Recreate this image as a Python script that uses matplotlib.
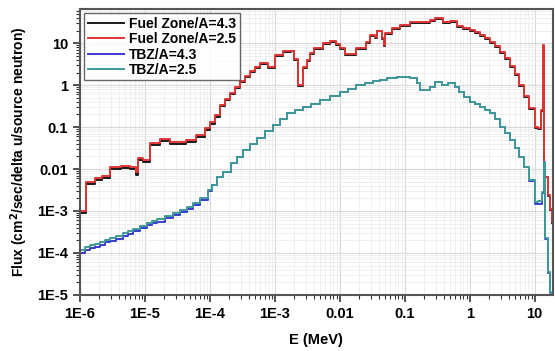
import numpy as np
import matplotlib
matplotlib.use('Agg')
import matplotlib.pyplot as plt
from matplotlib.ticker import LogLocator, NullFormatter

plt.rcParams['font.family'] = ['Liberation Sans', 'DejaVu Sans']
plt.rcParams['font.weight'] = 'bold'

# fuel zone spectrum (energy group lower edges, MeV)
fuel_E = [1.0e-6, 1.24e-6, 1.7e-6, 2.2e-6, 2.9e-6, 4.3e-6, 5.9e-6, 7.3e-6, 7.8e-6, 9.3e-6,
          1.2e-5, 1.7e-5, 2.4e-5, 4.3e-5, 6.1e-5, 8.4e-5, 1.0e-4, 1.19e-4, 1.43e-4, 1.7e-4,
          2.03e-4, 2.43e-4, 2.9e-4, 3.45e-4, 4.1e-4, 4.9e-4, 5.9e-4, 7.8e-4, 1.0e-3, 1.33e-3,
          1.75e-3, 2.0e-3, 2.26e-3, 2.7e-3, 3.1e-3, 3.5e-3, 4.0e-3, 5.5e-3, 7.0e-3, 8.7e-3,
          0.01, 0.0119, 0.0176, 0.025, 0.029, 0.035, 0.038, 0.044, 0.0475, 0.05,
          0.063, 0.084, 0.119, 0.17, 0.243, 0.29, 0.385, 0.49, 0.63, 0.8,
          1.0, 1.19, 1.42, 1.7, 2.03, 2.42, 2.88, 3.44, 4.1, 4.9,
          5.84, 6.97, 8.3, 10.0, 11.1, 12.4, 13.3, 13.8, 15.8, 17.0,
          18.2]
fuel_A25 = [1.0e-3, 4.9e-3, 6.1e-3, 6.8e-3, 0.0112, 0.0118, 0.0112, 0.0085, 0.0183, 0.0165,
            0.042, 0.052, 0.044, 0.049, 0.065, 0.095, 0.13, 0.19, 0.33, 0.46,
            0.65, 0.9, 1.24, 1.64, 2.15, 2.7, 3.3, 2.7, 5.2, 6.4,
            6.6, 4.2, 1.0, 2.7, 3.9, 5.8, 7.6, 10.0, 11.2, 9.5,
            7.6, 5.5, 7.6, 10.6, 15.5, 14.0, 20.0, 13.0, 9.0, 17.3,
            22.7, 26.9, 31.6, 31.6, 35.3, 39.4, 32.0, 33.4, 25.4, 22.5,
            20.4, 18.3, 15.5, 13.1, 10.6, 8.5, 6.1, 4.4, 2.83, 1.83,
            1.0, 0.55, 0.28, 0.10, 0.095, 0.25, 9.0, 6.5e-3, 2.4e-3, 1.1e-3,
            5.5e-4]
fuel_A43 = [9.0e-4, 4.4e-3, 5.5e-3, 6.1e-3, 0.0101, 0.0106, 0.0101, 0.0072, 0.0165, 0.0149,
            0.038, 0.047, 0.040, 0.044, 0.059, 0.086, 0.118, 0.175, 0.31, 0.44,
            0.62, 0.86, 1.18, 1.58, 2.05, 2.6, 3.15, 2.6, 5.0, 6.2,
            6.4, 4.0, 0.95, 2.6, 3.8, 5.6, 7.4, 9.7, 10.9, 9.2,
            7.4, 5.3, 7.4, 10.3, 15.0, 13.6, 19.4, 12.6, 8.7, 16.8,
            22.0, 26.1, 30.7, 30.7, 34.3, 38.2, 31.0, 32.4, 24.6, 21.8,
            19.8, 17.8, 15.0, 12.7, 10.3, 8.2, 5.9, 4.3, 2.75, 1.78,
            0.97, 0.53, 0.27, 0.097, 0.092, 0.24, 8.7, 6.3e-3, 2.3e-3, 1.05e-3,
            5.3e-4]

# tritium breeding zone spectrum
tbz_E = [1.0e-6, 1.19e-6, 1.43e-6, 1.7e-6, 2.03e-6, 2.43e-6, 2.9e-6, 3.58e-6, 4.6e-6, 5.5e-6,
         6.5e-6, 8.4e-6, 1.07e-5, 1.28e-5, 1.53e-5, 2.03e-5, 2.7e-5, 3.45e-5, 4.4e-5, 5.5e-5,
         7.0e-5, 9.3e-5, 1.07e-4, 1.28e-4, 1.58e-4, 2.1e-4, 2.6e-4, 3.2e-4, 4.1e-4, 5.3e-4,
         7.0e-4, 9.3e-4, 1.19e-3, 1.53e-3, 2.03e-3, 2.7e-3, 3.6e-3, 4.9e-3, 7.0e-3, 0.01,
         0.0133, 0.018, 0.0243, 0.032, 0.041, 0.053, 0.075, 0.119, 0.153, 0.17,
         0.243, 0.29, 0.37, 0.46, 0.6, 0.69, 0.83, 1.0, 1.19, 1.42,
         1.7, 2.03, 2.42, 2.88, 3.44, 4.1, 4.9, 5.84, 6.97, 8.3,
         10.0, 11.1, 12.8, 13.7, 14.3, 15.8, 17.0, 18.0]
tbz_A25 = [1.18e-4, 1.39e-4, 1.55e-4, 1.64e-4, 1.83e-4, 2.04e-4, 2.28e-4, 2.54e-4, 3.0e-4, 3.34e-4,
           3.7e-4, 4.4e-4, 5.2e-4, 5.8e-4, 6.4e-4, 7.6e-4, 8.9e-4, 1.06e-3, 1.24e-3, 1.55e-3,
           2.04e-3, 3.16e-3, 4.2e-3, 6.4e-3, 8.5e-3, 0.0139, 0.0193, 0.0283, 0.039, 0.055,
           0.080, 0.112, 0.155, 0.215, 0.254, 0.30, 0.353, 0.44, 0.547, 0.68,
           0.80, 1.0, 1.12, 1.25, 1.36, 1.47, 1.55, 1.47, 1.12, 0.76,
           0.9, 1.18, 1.0, 1.12, 0.89, 0.68, 0.52, 0.39, 0.35, 0.30,
           0.25, 0.215, 0.155, 0.10, 0.072, 0.049, 0.0316, 0.0193, 0.0112, 5.5e-3,
           1.64e-3, 1.7e-3, 2.8e-3, 0.0147, 2.3e-4, 3.5e-5, 1.2e-5, 1.0e-5]
tbz_A43 = [1.0e-4, 1.19e-4, 1.33e-4, 1.42e-4, 1.58e-4, 1.78e-4, 1.97e-4, 2.2e-4, 2.6e-4, 2.9e-4,
           3.25e-4, 3.85e-4, 4.6e-4, 5.1e-4, 5.6e-4, 6.7e-4, 7.9e-4, 9.4e-4, 1.11e-3, 1.4e-3,
           1.86e-3, 2.95e-3, 4.1e-3, 6.3e-3, 8.4e-3, 0.0137, 0.019, 0.028, 0.0387, 0.054,
           0.079, 0.111, 0.154, 0.213, 0.253, 0.30, 0.353, 0.44, 0.547, 0.68,
           0.80, 1.0, 1.12, 1.25, 1.36, 1.47, 1.55, 1.47, 1.12, 0.76,
           0.9, 1.18, 1.0, 1.12, 0.89, 0.68, 0.52, 0.39, 0.35, 0.30,
           0.25, 0.215, 0.155, 0.10, 0.072, 0.049, 0.0316, 0.0193, 0.0112, 5.3e-3,
           1.45e-3, 1.5e-3, 2.7e-3, 0.0145, 2.2e-4, 3.3e-5, 1.1e-5, 1.0e-5]

x_ticks = [1e-6, 1e-5, 1e-4, 1e-3, 0.01, 0.1, 1, 10]
x_labels = ['1E-6', '1E-5', '1E-4', '1E-3', '0.01', '0.1', '1', '10']
y_ticks = [1e-5, 1e-4, 1e-3, 0.01, 0.1, 1, 10]
y_labels = ['1E-5', '1E-4', '1E-3', '0.01', '0.1', '1', '10']

fig = plt.figure(figsize=(5.55, 3.51), dpi=100)
ax = fig.add_axes([0.144, 0.16, 0.852, 0.814])

ax.step(fuel_E, fuel_A43, where='post', color='#1a1a1a', lw=1.4, label='Fuel Zone/A=4.3')
ax.step(fuel_E, fuel_A25, where='post', color='#e03535', lw=1.4, label='Fuel Zone/A=2.5')
ax.step(tbz_E, tbz_A43, where='post', color='#3a3ad0', lw=1.4, label='TBZ/A=4.3')
ax.step(tbz_E, tbz_A25, where='post', color='#3f9a98', lw=1.4, label='TBZ/A=2.5')

ax.set_xscale('log')
ax.set_yscale('log')
ax.set_xlim(1e-6, 19)
ax.set_ylim(1e-5, 65)

ax.set_xticks(x_ticks)
ax.set_xticklabels(x_labels)
ax.set_yticks(y_ticks)
ax.set_yticklabels(y_labels)
ax.xaxis.set_minor_locator(LogLocator(base=10, subs=np.arange(2, 10), numticks=20))
ax.yaxis.set_minor_locator(LogLocator(base=10, subs=np.arange(2, 10), numticks=20))
ax.xaxis.set_minor_formatter(NullFormatter())
ax.yaxis.set_minor_formatter(NullFormatter())
ax.tick_params(which='major', direction='out', length=5, width=1.2, labelsize=10.5, colors='#333333')
ax.tick_params(which='minor', direction='out', length=3, width=0.8, colors='#333333')
for lab in ax.get_xticklabels() + ax.get_yticklabels():
    lab.set_fontweight('bold')
    lab.set_color('black')

ax.grid(True, which='major', color='#d8d8d8', lw=0.8)
ax.grid(True, which='minor', color='#ececec', lw=0.6)
ax.set_axisbelow(True)
for s in ax.spines.values():
    s.set_color('#555555')
    s.set_linewidth(1.5)

ax.set_xlabel('E (MeV)', fontsize=10.5, fontweight='bold', labelpad=9)
ax.set_ylabel('Flux (cm$^\\mathbf{2}$/sec/delta u/source neutron)', fontsize=10, fontweight='bold', labelpad=5)

leg = ax.legend(loc='upper left', fontsize=10, frameon=True, fancybox=False,
                handlelength=2.6, borderpad=0.25, labelspacing=0.1, handletextpad=0.4,
                borderaxespad=0.3)
leg.get_frame().set_edgecolor('#444444')
leg.get_frame().set_linewidth(1.0)
for t in leg.get_texts():
    t.set_fontweight('bold')

fig.savefig('out.png', dpi=100)
